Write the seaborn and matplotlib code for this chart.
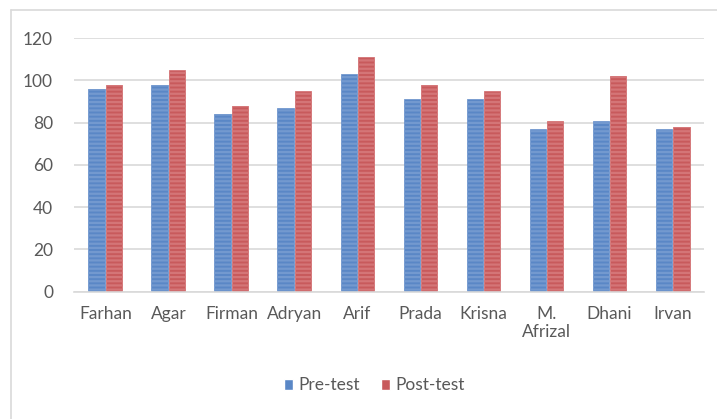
import matplotlib.pyplot as plt
from matplotlib.lines import Line2D
from matplotlib.patches import Patch
import pandas as pd
import seaborn as sns

names = ["Farhan", "Agar", "Firman", "Adryan", "Arif", "Prada", "Krisna",
         "M.\nAfrizal", "Dhani", "Irvan"]
pre_test = [96, 98, 84, 87, 103, 91, 91, 77, 81, 77]
post_test = [98, 105, 88, 95, 111, 98, 95, 81, 102, 78]
series = ["Pre-test", "Post-test"]
y_ticks = [0, 20, 40, 60, 80, 100, 120]

df = pd.DataFrame({
    "name": names * 2,
    "score": pre_test + post_test,
    "test": [series[0]] * len(names) + [series[1]] * len(names),
})

sns.set_style("white")
plt.rcParams["font.family"] = ["Lato", "DejaVu Sans"]
plt.rcParams["hatch.linewidth"] = 1.6

fill = {"Pre-test": "#5A87C6", "Post-test": "#C85A5C"}
stripe = {"Pre-test": "#7399CF", "Post-test": "#D47577"}

fig = plt.figure(figsize=(7.17, 4.19), dpi=100)
ax = fig.add_axes([0.103, 0.304, 0.879, 0.605])
sns.barplot(data=df, x="name", y="score", hue="test", palette=fill,
            width=0.56, gap=0.08, ax=ax, legend=False, saturation=1)

for container, s in zip(ax.containers, series):
    for bar in container:
        bar.set_hatch("----")
        bar.set_edgecolor(stripe[s])
        bar.set_linewidth(0.6)

ax.set_ylim(0, 120)
ax.set_xlim(-0.5, len(names) - 0.5)
ax.set_yticks(y_ticks)
ax.yaxis.grid(True, color="#D9D9D9", linewidth=1.2)
ax.set_axisbelow(True)
sns.despine(ax=ax, left=True, top=True, right=True)
ax.spines["bottom"].set_color("#D9D9D9")
ax.spines["bottom"].set_linewidth(1.2)
ax.tick_params(axis="y", length=0, pad=15, labelsize=12.5, labelcolor="#595959")
ax.tick_params(axis="x", length=0, pad=10, labelsize=12.5, labelcolor="#595959")
ax.set_xlabel("")
ax.set_ylabel("")

handles = [Patch(facecolor=fill[s], label=s) for s in series]
fig.legend(handles=handles, loc="center", bbox_to_anchor=(0.522, 0.08), ncol=2,
           frameon=False, fontsize=12.5, labelcolor="#595959",
           handlelength=0.55, handleheight=0.55, handletextpad=0.3, columnspacing=1.2)

# outer chart frame (cropped at right and bottom)
fig.add_artist(Line2D([11 / 717, 11 / 717], [0, 1 - 10 / 419], color="#D9D9D9", lw=1.2))
fig.add_artist(Line2D([11 / 717, 1], [1 - 10 / 419, 1 - 10 / 419], color="#D9D9D9", lw=1.2))

fig.savefig("out.png", dpi=100)
